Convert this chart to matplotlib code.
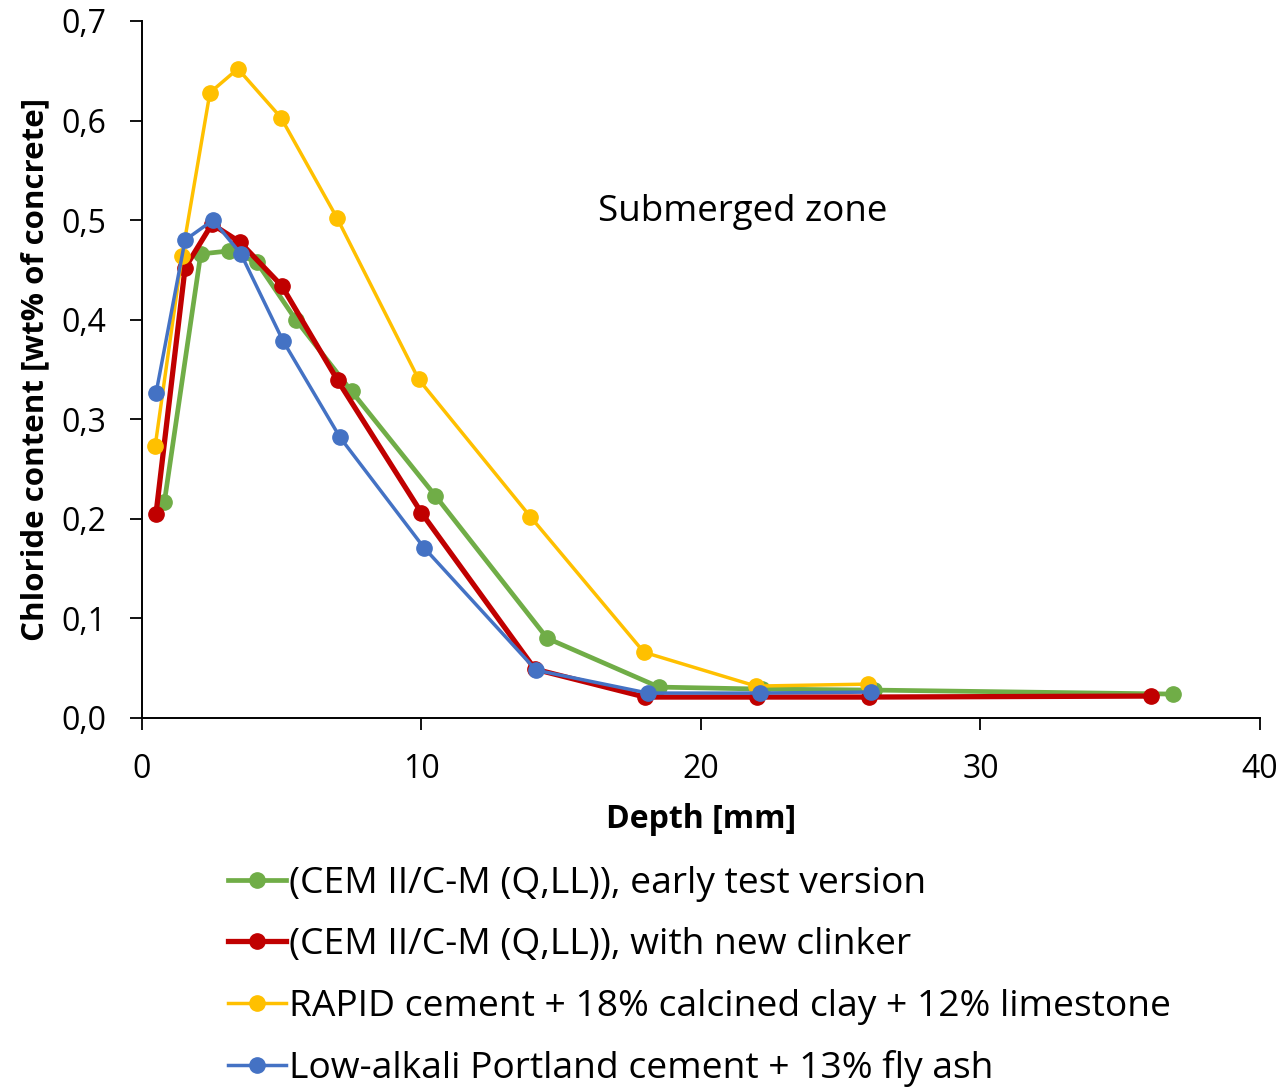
import matplotlib.pyplot as plt
from matplotlib.ticker import FuncFormatter

plt.rcParams['font.family'] = ['Open Sans', 'DejaVu Sans']

green_x = [0.8, 2.1, 3.1, 4.1, 5.5, 7.5, 10.5, 14.5, 18.5, 22.2, 26.2, 36.9]
green_y = [0.217, 0.466, 0.469, 0.458, 0.400, 0.328, 0.223, 0.080, 0.031, 0.029, 0.028, 0.024]

red_x = [0.5, 1.54, 2.5, 3.5, 5.0, 7.0, 10.0, 14.06, 18.0, 22.0, 26.0, 36.1]
red_y = [0.205, 0.452, 0.496, 0.478, 0.434, 0.339, 0.206, 0.049, 0.021, 0.021, 0.021, 0.022]

yellow_x = [0.47, 1.43, 2.43, 3.43, 4.97, 6.98, 9.9, 13.9, 17.96, 21.97, 25.97]
yellow_y = [0.273, 0.464, 0.628, 0.652, 0.603, 0.502, 0.340, 0.202, 0.066, 0.032, 0.034]

blue_x = [0.5, 1.54, 2.54, 3.54, 5.04, 7.08, 10.09, 14.1, 18.1, 22.1, 26.1]
blue_y = [0.326, 0.480, 0.500, 0.466, 0.379, 0.282, 0.171, 0.048, 0.025, 0.025, 0.026]

labels = ['(CEM II/C-M (Q,LL)), early test version',
          '(CEM II/C-M (Q,LL)), with new clinker',
          'RAPID cement + 18% calcined clay + 12% limestone',
          'Low-alkali Portland cement + 13% fly ash']

fig = plt.figure(figsize=(12.83, 10.87), dpi=100)
ax = fig.add_axes([0.1107, 0.3395, 0.8713, 0.6412])

ax.plot(green_x, green_y, color='#70ad47', lw=3.4, marker='o', ms=11, label=labels[0])
ax.plot(red_x, red_y, color='#c00000', lw=3.8, marker='o', ms=11, label=labels[1])
ax.plot(yellow_x, yellow_y, color='#ffc000', lw=2.5, marker='o', ms=11, label=labels[2])
ax.plot(blue_x, blue_y, color='#4472c4', lw=2.5, marker='o', ms=11, label=labels[3])

ax.set_xlim(0, 40)
ax.set_ylim(0, 0.7)
ax.set_xticks([0, 10, 20, 30, 40])
ax.set_yticks([0, 0.1, 0.2, 0.3, 0.4, 0.5, 0.6, 0.7])
ax.yaxis.set_major_formatter(FuncFormatter(lambda v, p: f'{v:.1f}'.replace('.', ',')))
ax.tick_params(labelsize=23, length=8.5, width=1.3, direction='out', pad=17)
for s in ['top', 'right']:
    ax.spines[s].set_visible(False)
for s in ['left', 'bottom']:
    ax.spines[s].set_linewidth(1.4)

ax.set_xlabel('Depth [mm]', fontsize=23, fontweight='bold', labelpad=12)
ax.set_ylabel('Chloride content [wt% of concrete]', fontsize=22.5, fontweight='bold', labelpad=8)
ax.text(16.3, 0.508, 'Submerged zone', fontsize=26.5, va='center')

fig.legend(loc='upper left', bbox_to_anchor=(0.1777, 0.2033), frameon=False, fontsize=26.8,
           handlelength=1.55, handletextpad=0.08, labelspacing=0.68,
           borderpad=0, borderaxespad=0)

fig.savefig('out.png', dpi=100)
